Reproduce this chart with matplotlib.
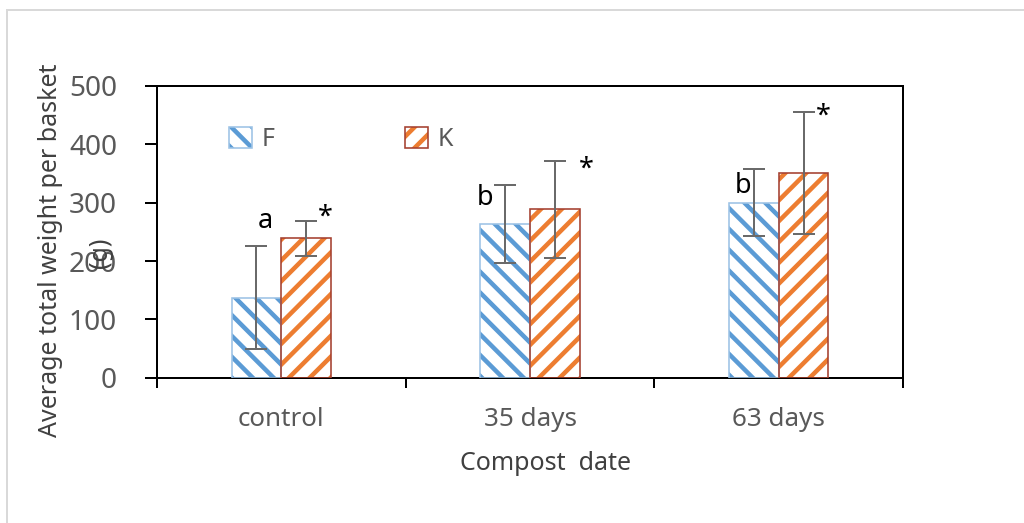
import matplotlib
matplotlib.use("Agg")
import matplotlib.pyplot as plt
from matplotlib.patches import Patch
from matplotlib.lines import Line2D
import numpy as np

# ------------------------------------------
# Data
# ------------------------------------------
categories = ["control", "35 days", "63 days"]
f_mean = [137, 264, 300]
f_err = [88, 67, 57]
k_mean = [239, 289, 351]
k_err = [30, 83, 104]
series_names = ["F", "K"]
y_ticks = [0, 100, 200, 300, 400, 500]

# significance letters: text, x (category units), y (data units)
sig_text = ["a", "*", "b", "*", "b", "*"]
sig_x = [-0.066, 0.175, 0.819, 1.225, 1.856, 2.178]
sig_y = [269, 275, 308, 357, 328, 448]

# ------------------------------------------
# Sizes are thought of in pixels, converted to points
# dpi 125 so hatch spacing comes out close to the original
# ------------------------------------------
DPI = 125
PT = 72 / DPI

plt.rcParams["font.family"] = ["Noto Sans", "DejaVu Sans"]
plt.rcParams["hatch.linewidth"] = 4.5 * PT

F_HATCH, F_EDGE = "#5b9bd5", "#9dc3e6"
K_HATCH, K_EDGE = "#ed7d31", "#a5402f"
GREY_TXT = "#595959"
DARK_TXT = "#404040"
ERR_COL = "#6a6a6a"
F_PAT, K_PAT = "\\\\", "//"

fig = plt.figure(figsize=(1024 / DPI, 523 / DPI), dpi=DPI)
ax = fig.add_axes([157 / 1024, 1 - 377.7 / 523, (903 - 157) / 1024, (377.7 - 86) / 523])

x = np.arange(len(categories))
w = 0.2

# hatch layer + border layer for each series
ax.bar(x - w / 2, f_mean, w, color="white", edgecolor=F_HATCH, hatch=F_PAT, linewidth=0, zorder=2)
ax.bar(x - w / 2, f_mean, w, color="none", edgecolor=F_EDGE, linewidth=1.6 * PT, zorder=3)
ax.bar(x + w / 2, k_mean, w, color="white", edgecolor=K_HATCH, hatch=K_PAT, linewidth=0, zorder=2)
ax.bar(x + w / 2, k_mean, w, color="none", edgecolor=K_EDGE, linewidth=1.6 * PT, zorder=3)

ax.errorbar(x - w / 2, f_mean, yerr=f_err, fmt="none", ecolor=ERR_COL,
            elinewidth=2 * PT, capsize=11 * PT, capthick=2 * PT, zorder=4)
ax.errorbar(x + w / 2, k_mean, yerr=k_err, fmt="none", ecolor=ERR_COL,
            elinewidth=2 * PT, capsize=11 * PT, capthick=2 * PT, zorder=4)

for t, sx, sy in zip(sig_text, sig_x, sig_y):
    ax.text(sx, sy, t, ha="center", va="center", fontsize=27 * PT, color="black", zorder=5)

ax.set_xlim(-0.5, len(categories) - 0.5)
ax.set_ylim(0, 500)
ax.set_yticks(y_ticks)
ax.set_xticks(x)
ax.set_xticklabels(categories)
ax.set_xticks(np.arange(len(categories) + 1) - 0.5, minor=True)

for s in ax.spines.values():
    s.set_linewidth(2 * PT)
    s.set_color("black")

ax.tick_params(axis="y", direction="out", length=12 * PT, width=2 * PT,
               labelsize=28 * PT, labelcolor=GREY_TXT, pad=28 * PT)
ax.tick_params(axis="x", which="major", length=0, labelsize=26 * PT,
               labelcolor=GREY_TXT, pad=29 * PT)
ax.tick_params(axis="x", which="minor", direction="out", length=10 * PT, width=2 * PT)

# legend
h_f = (Patch(facecolor="white", edgecolor=F_HATCH, hatch=F_PAT, linewidth=0),
       Patch(facecolor="none", edgecolor=F_EDGE, linewidth=1.6 * PT))
h_k = (Patch(facecolor="white", edgecolor=K_HATCH, hatch=K_PAT, linewidth=0),
       Patch(facecolor="none", edgecolor=K_EDGE, linewidth=1.6 * PT))
leg = ax.legend([h_f, h_k], series_names, loc="center left",
                bbox_to_anchor=(0.0965, 0.8166), ncol=2, frameon=False,
                fontsize=25 * PT, handlelength=0.92, handleheight=0.92,
                handletextpad=0.4, columnspacing=5.2, borderpad=0, borderaxespad=0)
for txt in leg.get_texts():
    txt.set_color(GREY_TXT)

# axis titles
fig.text(546 / 1024, 1 - 463 / 523, "Compost  date", ha="center", va="center",
         fontsize=25 * PT, color=DARK_TXT)
fig.text(51 / 1024, 1 - 250 / 523, "Average total weight per basket", rotation=90,
         ha="center", va="center", fontsize=25 * PT, color=DARK_TXT)
fig.text(100 / 1024, 1 - 253 / 523, "(g)", rotation=90,
         ha="center", va="center", fontsize=25 * PT, color=DARK_TXT)

# light outer chart-area border (top and left edges visible)
fig.add_artist(Line2D([7 / 1024, 7 / 1024], [0, 1 - 10 / 523], color="#d9d9d9",
                      linewidth=2 * PT, transform=fig.transFigure))
fig.add_artist(Line2D([7 / 1024, 1], [1 - 10 / 523, 1 - 10 / 523], color="#d9d9d9",
                      linewidth=2 * PT, transform=fig.transFigure))

fig.savefig("out.png", dpi=DPI)
plt.close(fig)
